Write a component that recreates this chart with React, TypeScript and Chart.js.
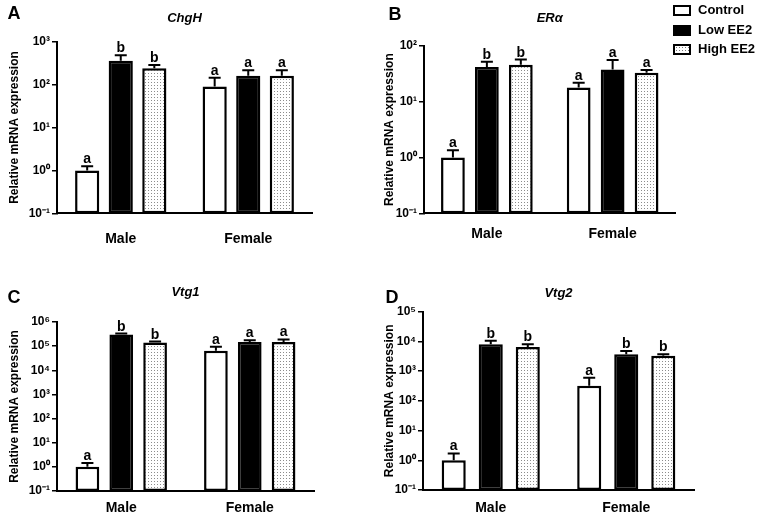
import React, { useEffect, useRef } from 'react';
import { Chart, registerables } from 'chart.js';

Chart.register(...registerables);

const FONT = '"Liberation Sans", Arial, Helvetica, sans-serif';

// ---------- data ----------
const groups = ['Male', 'Female'];
const seriesNames = ['Control', 'Low EE2', 'High EE2'];

// ChgH
const chghControl = [1.0, 90];
const chghLow = [360, 160];
const chghHigh = [240, 160];
const chghControlUpper = [1.25, 145];
const chghLowUpper = [480, 215];
const chghHighUpper = [285, 215];
const chghLetters = [['a', 'a'], ['b', 'a'], ['b', 'a']];
const chghTicks = [0.1, 1, 10, 100, 1000];

// ERα
const eraControl = [1.0, 18];
const eraLow = [42, 38];
const eraHigh = [46, 33];
const eraControlUpper = [1.35, 22];
const eraLowUpper = [52, 56];
const eraHighUpper = [57, 37];
const eraLetters = [['a', 'a'], ['b', 'a'], ['b', 'a']];
const eraTicks = [0.1, 1, 10, 100];

// Vtg1
const vtg1Control = [1.0, 65000];
const vtg1Low = [300000, 150000];
const vtg1High = [140000, 150000];
const vtg1ControlUpper = [1.45, 95000];
const vtg1LowUpper = [330000, 175000];
const vtg1HighUpper = [155000, 190000];
const vtg1Letters = [['a', 'a'], ['b', 'a'], ['b', 'a']];
const vtg1Ticks = [0.1, 1, 10, 100, 1000, 10000, 100000, 1000000];

// Vtg2
const vtg2Control = [1.0, 320];
const vtg2Low = [8000, 3700];
const vtg2High = [6500, 3300];
const vtg2ControlUpper = [1.7, 600];
const vtg2LowUpper = [10500, 4800];
const vtg2HighUpper = [8000, 3700];
const vtg2Letters = [['a', 'a'], ['b', 'b'], ['b', 'b']];
const vtg2Ticks = [0.1, 1, 10, 100, 1000, 10000, 100000];

// ---------- layout ----------
const panels = [
  {
    key: 'A', title: 'ChgH', left: 0, top: 0, w: 382, h: 258,
    area: { l: 57, r: 312, t: 41.7, b: 213.3 }, titleY: 18, yTitleX: 15, xLabelY: 239,
    cat: 0.79, bar: 0.72, ticks: chghTicks,
    series: [chghControl, chghLow, chghHigh],
    upper: [chghControlUpper, chghLowUpper, chghHighUpper], letters: chghLetters,
  },
  {
    key: 'B', title: 'ERα', left: 382, top: 0, w: 382, h: 258,
    area: { l: 424, r: 675.5, t: 46, b: 213.3 }, titleY: 18, yTitleX: 390, xLabelY: 234,
    cat: 0.81, bar: 0.7, ticks: eraTicks,
    series: [eraControl, eraLow, eraHigh],
    upper: [eraControlUpper, eraLowUpper, eraHighUpper], letters: eraLetters,
  },
  {
    key: 'C', title: 'Vtg1', left: 0, top: 258, w: 382, h: 261,
    area: { l: 57, r: 314, t: 322, b: 491 }, titleY: 292, yTitleX: 15, xLabelY: 508,
    cat: 0.79, bar: 0.7, ticks: vtg1Ticks,
    series: [vtg1Control, vtg1Low, vtg1High],
    upper: [vtg1ControlUpper, vtg1LowUpper, vtg1HighUpper], letters: vtg1Letters,
  },
  {
    key: 'D', title: 'Vtg2', left: 382, top: 258, w: 382, h: 261,
    area: { l: 423, r: 694, t: 311.7, b: 490 }, titleY: 293, yTitleX: 390, xLabelY: 508,
    cat: 0.82, bar: 0.65, ticks: vtg2Ticks,
    series: [vtg2Control, vtg2Low, vtg2High],
    upper: [vtg2ControlUpper, vtg2LowUpper, vtg2HighUpper], letters: vtg2Letters,
  },
];

const SUP: Record<string, string> = {
  '-': '⁻', '0': '⁰', '1': '¹', '2': '²', '3': '³', '4': '⁴', '5': '⁵', '6': '⁶',
  '7': '⁷', '8': '⁸', '9': '⁹',
};
function powLabel(v: number) {
  const e = Math.round(Math.log10(v));
  return '10' + String(e).split('').map((c) => SUP[c]).join('');
}

function makeDots(ctx: CanvasRenderingContext2D) {
  const c = document.createElement('canvas');
  c.width = 3;
  c.height = 3;
  const g = c.getContext('2d')!;
  g.fillStyle = '#ffffff';
  g.fillRect(0, 0, 3, 3);
  g.fillStyle = '#8c8c8c';
  g.fillRect(1, 1, 1, 1);
  return ctx.createPattern(c, 'repeat')!;
}

function makeErrPlugin(upper: number[][], letters: string[][]) {
  return {
    id: 'errLetters',
    afterDatasetsDraw(chart: any) {
      const { ctx } = chart;
      const y = chart.scales.y;
      ctx.save();
      ctx.strokeStyle = '#000';
      ctx.fillStyle = '#000';
      ctx.lineWidth = 2;
      ctx.font = `bold 14px ${FONT}`;
      ctx.textAlign = 'center';
      ctx.textBaseline = 'alphabetic';
      chart.data.datasets.forEach((_ds: any, i: number) => {
        const meta = chart.getDatasetMeta(i);
        meta.data.forEach((bar: any, j: number) => {
          const top = y.getPixelForValue(upper[i][j]);
          const x = bar.x;
          ctx.beginPath();
          ctx.moveTo(x, bar.y);
          ctx.lineTo(x, top);
          ctx.moveTo(x - 6, top);
          ctx.lineTo(x + 6, top);
          ctx.stroke();
          ctx.fillText(letters[i][j], x, top - 3);
        });
      });
      ctx.restore();
    },
  };
}

type PanelCfg = (typeof panels)[number];

function Panel({ cfg }: { cfg: PanelCfg }) {
  const ref = useRef<HTMLCanvasElement | null>(null);
  useEffect(() => {
    const canvas = ref.current!;
    const ctx = canvas.getContext('2d')!;
    const dots = makeDots(ctx);
    const titleSize = 13;
    const th = titleSize * 1.2;
    const padTop = cfg.titleY - cfg.top - th / 2;
    const titlePadBottom = cfg.area.t - cfg.top - padTop - th;
    const yWidth = cfg.area.l - cfg.left;
    const padRight = cfg.left + cfg.w - cfg.area.r;
    const xHeight = cfg.top + cfg.h - cfg.area.b;
    const xPad = cfg.xLabelY - cfg.area.b - 8;
    const yTitlePad = Math.max(0, cfg.yTitleX - cfg.left - 7.2);
    const fills = ['#ffffff', '#000000', dots];

    const chart = new Chart(canvas, {
      type: 'bar',
      data: {
        labels: groups,
        datasets: seriesNames.map((name, i) => ({
          label: name,
          data: cfg.series[i],
          backgroundColor: fills[i] as any,
          borderColor: '#000000',
          borderWidth: 2.5,
          borderSkipped: false,
          categoryPercentage: cfg.cat,
          barPercentage: cfg.bar,
        })),
      },
      options: {
        animation: false,
        responsive: false,
        events: [],
        layout: { padding: { top: padTop, right: padRight, left: 0, bottom: 0 } },
        plugins: {
          legend: { display: false },
          tooltip: { enabled: false },
          title: {
            display: true,
            text: cfg.title,
            fullSize: false,
            color: '#000',
            font: { family: FONT, size: titleSize, weight: 'bold', style: 'italic', lineHeight: 1.2 },
            padding: { top: 0, bottom: titlePadBottom },
          },
        },
        scales: {
          x: {
            type: 'category',
            grid: { display: false, drawTicks: false },
            border: { display: true, color: '#000', width: 2 },
            ticks: { color: '#000', font: { family: FONT, size: 14, weight: 'bold' }, padding: xPad },
            afterFit: (s: any) => { s.height = xHeight; },
          },
          y: {
            type: 'logarithmic',
            min: cfg.ticks[0],
            max: cfg.ticks[cfg.ticks.length - 1],
            afterBuildTicks: (s: any) => { s.ticks = cfg.ticks.map((v) => ({ value: v })); },
            grid: { display: true, drawOnChartArea: false, drawTicks: true, tickLength: 5, color: '#000', lineWidth: 1.5 },
            border: { display: true, color: '#000', width: 2 },
            ticks: {
              color: '#000',
              padding: 2,
              font: { family: FONT, size: 12, weight: 'bold' },
              callback: (v: any) => powLabel(Number(v)),
            },
            title: {
              display: true,
              text: 'Relative mRNA expression',
              color: '#000',
              font: { family: FONT, size: 12, weight: 'bold', lineHeight: 1.2 },
              padding: { top: yTitlePad, bottom: 0 },
            },
            afterFit: (s: any) => { s.width = yWidth; },
          },
        },
      } as any,
      plugins: [makeErrPlugin(cfg.upper, cfg.letters)],
    });
    return () => chart.destroy();
  }, [cfg]);
  return (
    <div style={{ position: 'absolute', left: cfg.left, top: cfg.top, width: cfg.w, height: cfg.h }}>
      <canvas ref={ref} width={cfg.w} height={cfg.h} style={{ display: 'block' }} />
    </div>
  );
}

const letterPos = [
  { key: 'A', x: 14, y: 13 },
  { key: 'B', x: 395, y: 14 },
  { key: 'C', x: 14, y: 297 },
  { key: 'D', x: 392, y: 297 },
];

const legendRows = [
  { name: seriesNames[0], y: 10, bg: '#ffffff', img: 'none' },
  { name: seriesNames[1], y: 30, bg: '#000000', img: 'none' },
  { name: seriesNames[2], y: 49, bg: '#ffffff', img: 'radial-gradient(circle, #777 0.7px, transparent 0.9px)' },
];

export default function App() {
  return (
    <div style={{ position: 'absolute', left: 0, top: 0, width: 764, height: 519, background: '#fff', overflow: 'hidden', fontFamily: FONT }}>
      {panels.map((p) => <Panel key={p.key} cfg={p} />)}
      {letterPos.map((l) => (
        <div key={l.key} style={{ position: 'absolute', left: l.x - 10, top: l.y - 10, width: 20, height: 20, lineHeight: '20px', textAlign: 'center', fontSize: 18, fontWeight: 'bold', color: '#000' }}>
          {l.key}
        </div>
      ))}
      {legendRows.map((r) => (
        <div key={r.name} style={{ position: 'absolute', left: 673, top: r.y - 8, height: 16, display: 'flex', alignItems: 'center' }}>
          <span style={{ display: 'inline-block', width: 18, height: 11, boxSizing: 'border-box', border: '2.5px solid #000', backgroundColor: r.bg, backgroundImage: r.img, backgroundSize: '3px 3px' }} />
          <span style={{ marginLeft: 7, fontSize: 13, fontWeight: 'bold', color: '#000', lineHeight: '16px' }}>{r.name}</span>
        </div>
      ))}
    </div>
  );
}
